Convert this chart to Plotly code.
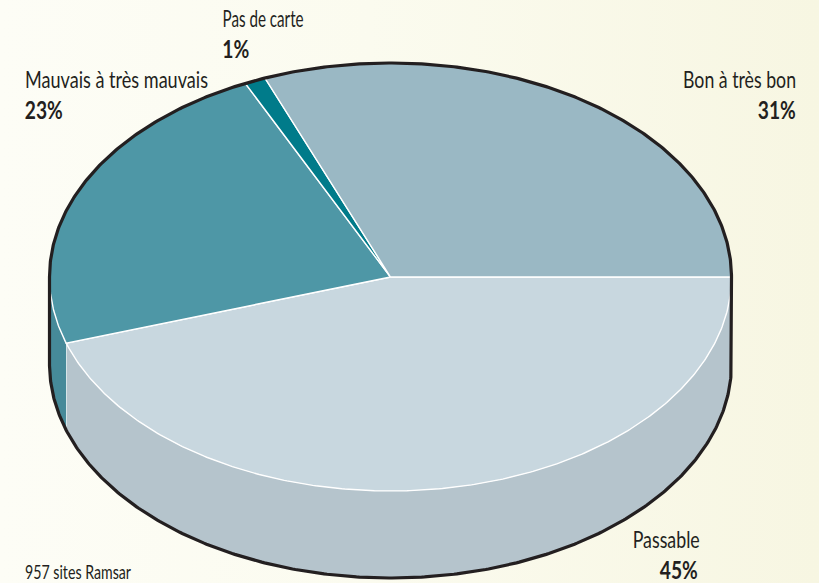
import json
import numpy as np
import plotly.graph_objects as go

# Data
categories = ["Passable", "Mauvais à très mauvais", "Pas de carte", "Bon à très bon"]
values = [45, 23, 1, 31]
note = "957 sites Ramsar"

# Styles
top_colors = ["#c8d7df", "#4e97a6", "#007b8a", "#9ab8c4"]
side_colors = ["#b5c4cc", "#468a99", "#007b8a", "#9ab8c4"]
outline = "#231f20"
FONT = "Lato, Noto Sans, sans-serif"

# Geometry in pixels of the 819x583 page
W, H = 819, 583
CX, CY, RX, RY, DEPTH = 390.5, 277, 341, 214, 87

def ell(a_deg, dy=0):
    a = np.radians(a_deg)
    return CX + RX * np.cos(a), CY + dy + RY * np.sin(a)

def arc(a0, a1, dy=0):
    n = max(int(abs(a1 - a0) * 2) + 2, 3)
    return ell(np.linspace(a0, a1, n), dy)

fig = go.Figure()

# Background gradient
fig.add_trace(go.Scatter(
    x=[0, W, W, 0, 0], y=[0, 0, H, H, 0], mode="lines", line=dict(width=0),
    fill="toself", hoverinfo="skip",
    fillgradient=dict(type="horizontal",
                      colorscale=[[0, "#fdfdf6"], [0.45, "#fbfbef"], [1, "#f7f6e2"]]),
))

edges = np.concatenate([[0], np.cumsum(values)]) * 360.0 / sum(values)

# Visible side walls (front half of the disc only)
for i in range(len(values)):
    a0, a1 = edges[i], min(edges[i + 1], 180)
    if a0 >= 180:
        continue
    xt, yt = arc(a0, a1)
    xb, yb = arc(a1, a0, DEPTH)
    fig.add_trace(go.Scatter(
        x=np.concatenate([xt, xb, xt[:1]]), y=np.concatenate([yt, yb, yt[:1]]),
        mode="lines", fill="toself", fillcolor=side_colors[i],
        line=dict(width=0), hoverinfo="skip"))
    if a1 < 180:
        x0, y0 = ell(a1)
        x1, y1 = ell(a1, DEPTH)
        fig.add_trace(go.Scatter(
            x=[x0, x1], y=[y0, y1],
            mode="lines", line=dict(color="white", width=1.4), hoverinfo="skip"))

# Top slices
for i in range(len(values)):
    xa, ya = arc(edges[i], edges[i + 1])
    fig.add_trace(go.Scatter(
        x=np.concatenate([[CX], xa, [CX]]), y=np.concatenate([[CY], ya, [CY]]),
        mode="lines", fill="toself", fillcolor=top_colors[i],
        line=dict(color="white", width=1.4), hoverinfo="skip"))

# Dark outer outline
xo1, yo1 = arc(180, 360)
xo2, yo2 = arc(0, 180, DEPTH)
fig.add_trace(go.Scatter(
    x=np.concatenate([xo1, xo2, xo1[:1]]), y=np.concatenate([yo1, yo2, yo1[:1]]),
    mode="lines", line=dict(color=outline, width=3.2), hoverinfo="skip"))

# Labels: left, right of the name; left, right of the value; y of both lines
label_pos = {
    "Passable": (632, 699, 660, 698, 538.5, 569),
    "Mauvais à très mauvais": (25, 208, 25, 63, 78, 109),
    "Pas de carte": (222, 303, 222, 249, 17.5, 48),
    "Bon à très bon": (683, 796, 758, 796, 78, 109),
}
ann = []
fit = {}

def put(text, x0, x1, y, size, bold=False):
    ann.append(dict(x=(x0 + x1) / 2, y=y, text=f"<b>{text}</b>" if bold else text,
                    xanchor="center", yanchor="middle", showarrow=False,
                    font=dict(family=FONT, size=size, color=outline)))
    fit[text] = x1 - x0

for name, v in zip(categories, values):
    x0, x1, x2, x3, y1, y2 = label_pos[name]
    put(name, x0, x1, y1, 24)
    put(f"{v}%", x2, x3, y2, 24, bold=True)
put(note, 25, 131, 571, 19)

fig.update_layout(
    width=W, height=H, margin=dict(l=0, r=0, t=0, b=0), showlegend=False,
    paper_bgcolor="#fbfbef", plot_bgcolor="#fbfbef", annotations=ann,
    xaxis=dict(range=[0, W], visible=False, fixedrange=True),
    yaxis=dict(range=[H, 0], visible=False, fixedrange=True),
)

# The reference type is condensed: fit each real text run to its measured width
post = """
document.body.style.margin='0';
var fit = %s;
document.querySelectorAll('.annotation-text').forEach(function (t) {
  var w = fit[t.textContent];
  if (w) { t.setAttribute('textLength', w); t.setAttribute('lengthAdjust', 'spacingAndGlyphs'); }
});
""" % json.dumps(fit, ensure_ascii=False)
fig.write_html("out.html", config=dict(displayModeBar=False), post_script=post)
